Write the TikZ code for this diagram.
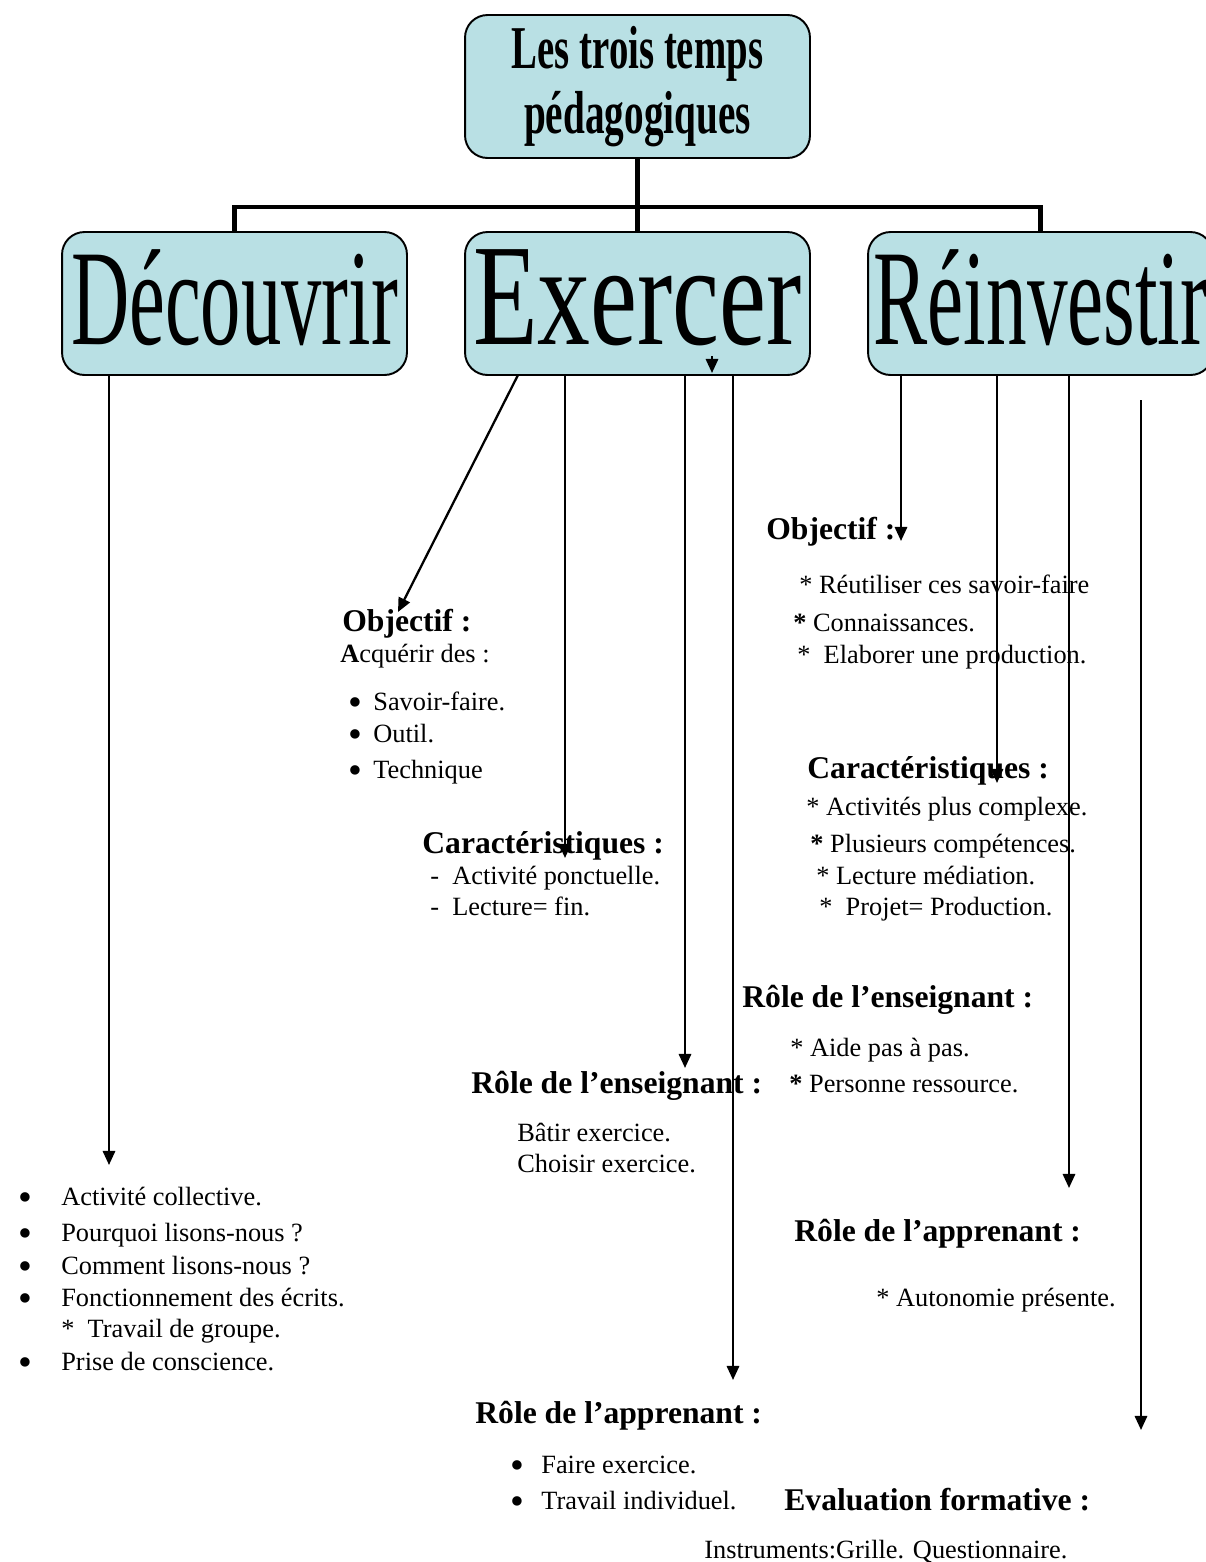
\documentclass[tikz,border=0pt]{standalone}
\usepackage{fontspec}
\setmainfont{Liberation Serif}
\usetikzlibrary{arrows.meta}
\definecolor{boxblue}{RGB}{185,224,228}
\newcommand{\blt}{\raisebox{-3.3pt}[0pt][0pt]{\scalebox{1.5}{•}}}

\begin{document}
\begin{tikzpicture}[>={Triangle[length=8pt,width=7pt]}, x=0.02cm, y=-0.02cm,
  box/.style={draw, fill=boxblue, line width=1.1pt, rounded corners=0.45cm,
    minimum width=6.9cm, minimum height=2.86cm, inner sep=0pt},
  trunk/.style={line width=2.6pt},
  arr/.style={->, line width=1.3pt},
  txt/.style={anchor=base west, inner sep=0pt, font=\fontsize{15}{18}\selectfont},
  head/.style={anchor=base west, inner sep=0pt, font=\fontsize{18}{21}\selectfont\bfseries}]
  \useasboundingbox (0,0) rectangle (1205,1562);
  % Title and the three stages
  \node[box, align=center] (title) at (637.5,86.5)
    {\resizebox{143pt}{24pt}{\bfseries Les trois temps}\\[5pt]
     \resizebox{129pt}{24pt}{\bfseries pédagogiques}};
  \node[box] (decouv) at (234.5,303.5) {\raisebox{7pt}{\resizebox{186pt}{54pt}{Découvrir}}};
  \node[box] (exer)   at (637.5,303.5) {\raisebox{7pt}{\resizebox{187pt}{54pt}{Exercer}}};
  \node[box] (reinv)  at (1040.5,303.5) {\raisebox{7pt}{\resizebox{190pt}{54pt}{Réinvestir}}};
  % Tree
  \coordinate (fork) at (637,207);
  \draw[trunk] (title.south) -- (exer.north);
  \draw[trunk] (decouv.north) |- (fork) -| (reinv.north);
  % Découvrir
  \node[txt] (d1) at (18,1205) {\makebox[0.86cm][l]{\blt}Activité collective.};
  \node[txt] (d2) at (18,1241) {\makebox[0.86cm][l]{\blt}Pourquoi lisons-nous ?};
  \node[txt] (d3) at (18,1274) {\makebox[0.86cm][l]{\blt}Comment lisons-nous ?};
  \node[txt] (d4) at (18,1306) {\makebox[0.86cm][l]{\blt}Fonctionnement des écrits.};
  \node[txt] (d5) at (61,1337) {*~~Travail de groupe.};
  \node[txt] (d6) at (18,1370) {\makebox[0.86cm][l]{\blt}Prise de conscience.};
  % Exercer
  \node[head] (eobj) at (342,631) {Objectif :};
  \node[txt] (eacq) at (340,662) {\textbf{A}cquérir des :};
  \node[txt] (es1) at (348,710) {\makebox[0.5cm][l]{\blt}Savoir-faire.};
  \node[txt] (es2) at (348,742) {\makebox[0.5cm][l]{\blt}Outil.};
  \node[txt] (es3) at (348,778) {\makebox[0.5cm][l]{\blt}Technique};
  \node[head] (ecar) at (422,853) {Caractéristiques :};
  \node[txt] (ec1) at (430,884) {-~~Activité ponctuelle.};
  \node[txt] (ec2) at (430,915) {-~~Lecture= fin.};
  \node[head] (eens) at (471,1093) {Rôle de l’enseignant :};
  \node[txt] (ee1) at (517,1141) {Bâtir exercice.};
  \node[txt] (ee2) at (517,1172) {Choisir exercice.};
  \node[head] (eapp) at (475,1423) {Rôle de l’apprenant :};
  \node[txt] (ea1) at (510,1473) {\makebox[0.62cm][l]{\blt}Faire exercice.};
  \node[txt] (ea2) at (510,1509) {\makebox[0.62cm][l]{\blt}Travail individuel.};
  \node[head] (eval) at (784,1510) {Evaluation formative :};
  \node[txt] (einst) at (704,1558) {Instruments:Grille. Questionnaire.};
  % Réinvestir
  \node[head] (robj) at (766,539) {Objectif :};
  \node[txt] (ro1) at (799,593) {*~Réutiliser ces savoir-faire};
  \node[txt] (ro2) at (793,631) {\textbf{*}~Connaissances.};
  \node[txt] (ro3) at (797,663) {*~~Elaborer une production.};
  \node[head] (rcar) at (807,778) {Caractéristiques :};
  \node[txt] (rc1) at (806,815) {*~Activités plus complexe.};
  \node[txt] (rc2) at (810,852) {\textbf{*}~Plusieurs compétences.};
  \node[txt] (rc3) at (816,884) {*~Lecture médiation.};
  \node[txt] (rc4) at (819,915) {*~~Projet= Production.};
  \node[head] (rens) at (742,1007) {Rôle de l’enseignant :};
  \node[txt] (re1) at (790,1056) {*~Aide pas à pas.};
  \node[txt] (re2) at (789,1092) {\textbf{*}~Personne ressource.};
  \node[head] (rapp) at (794,1241) {Rôle de l’apprenant :};
  \node[txt] (ra1) at (876,1306) {*~Autonomie présente.};
  % Arrows
  \coordinate (dtip) at (109,1165);
  \coordinate (eo) at (518,375);
  \coordinate (eotip) at (398,612);
  \coordinate (ectip) at (565,858);
  \coordinate (eetip) at (685,1068);
  \coordinate (eatip) at (733,1380);
  \coordinate (strayA) at (712,356);
  \coordinate (strayB) at (712,373);
  \coordinate (rotip) at (901,541);
  \coordinate (rctip) at (997,783);
  \coordinate (ratip) at (1069,1188);
  \coordinate (rvA) at (1141,400);
  \coordinate (rvtip) at (1141,1430);
  \draw[arr] (decouv.south -| dtip) -- (dtip);
  \draw[arr] (eo) -- (eotip);
  \draw[arr] (exer.south -| ectip) -- (ectip);
  \draw[arr] (exer.south -| eetip) -- (eetip);
  \draw[arr] (exer.south -| eatip) -- (eatip);
  \draw[arr] (strayA) -- (strayB);
  \draw[arr] (reinv.south -| rotip) -- (rotip);
  \draw[arr] (reinv.south -| rctip) -- (rctip);
  \draw[arr] (reinv.south -| ratip) -- (ratip);
  \draw[arr] (rvA) -- (rvtip);
\end{tikzpicture}
\end{document}
